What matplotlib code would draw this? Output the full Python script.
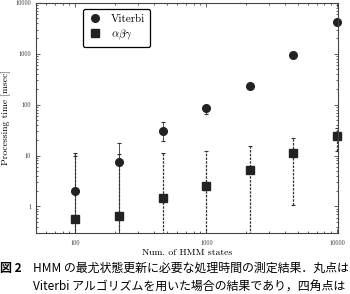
import matplotlib
matplotlib.use('Agg')
import matplotlib.pyplot as plt
from matplotlib.ticker import FuncFormatter, LogLocator
from matplotlib.lines import Line2D
import numpy as np

plt.rcParams['font.family'] = ['cmr10', 'DejaVu Serif']
plt.rcParams['mathtext.fontset'] = 'cm'
plt.rcParams['axes.formatter.use_mathtext'] = True

# number of HMM states
states = [100, 215, 464, 1000, 2154, 4642, 10000]

# Viterbi: mean, lower, upper (msec)
vit_mean = [2.0, 7.3, 31, 85, 235, 960, 4250]
vit_low = [0.2, 0.2, 19, 66, 220, 930, 4100]
vit_high = [10.0, 17.5, 45, 99, 250, 990, 4400]

# alpha-beta-gamma: mean, lower, upper (msec)
abg_mean = [0.56, 0.64, 1.45, 2.5, 5.3, 11.3, 24]
abg_low = [0.1, 0.1, 0.1, 0.1, 0.1, 1.05, 12.5]
abg_high = [11.1, 10.5, 11.0, 12.2, 15.2, 22, 35]

fig = plt.figure(figsize=(3.5, 2.94), dpi=100)
ax = fig.add_axes([0.103, 0.2075, 0.863, 0.7825])

vm = np.array(vit_mean)
am = np.array(abg_mean)
vit_err = [vm - np.array(vit_low), np.array(vit_high) - vm]
abg_err = [am - np.array(abg_low), np.array(abg_high) - am]

col = '#222222'
e2 = ax.errorbar(states, abg_mean, yerr=abg_err, fmt='s', color=col,
                 ms=5.5, elinewidth=0.9, capsize=1.5, capthick=0.8, ecolor='#333333')
e2[2][0].set_linestyle((0, (2, 1)))
e2[0].set_clip_on(False)
e1 = ax.errorbar(states, vit_mean, yerr=vit_err, fmt='o', color=col,
                 ms=5.5, elinewidth=0.6, capsize=1.5, capthick=0.8, ecolor='#333333')
e1[0].set_clip_on(False)

ax.set_xscale('log')
ax.set_yscale('log')
ax.set_xlim(50, 10180)
ax.set_ylim(0.3, 10000)

fmt = FuncFormatter(lambda v, p: '%d' % round(v))
ax.xaxis.set_major_locator(LogLocator(base=10))
ax.yaxis.set_major_locator(LogLocator(base=10))
ax.xaxis.set_major_formatter(fmt)
ax.yaxis.set_major_formatter(fmt)
ax.tick_params(which='both', direction='in', top=True, right=True,
               labelsize=4.5, width=0.6, color='#444444', labelcolor='#333333')
ax.tick_params(which='major', length=3)
ax.tick_params(which='minor', length=1.5)
ax.tick_params(axis='x', pad=5)
for s in ax.spines.values():
    s.set_linewidth(0.8)
    s.set_color('#444444')

ax.set_xlabel('Num. of HMM states', fontsize=7, labelpad=2)
ax.set_ylabel('Processing time [msec]', fontsize=7, labelpad=3)

handles = [Line2D([], [], ls='none', marker='o', ms=5.5, color=col),
           Line2D([], [], ls='none', marker='s', ms=5.5, color=col)]
leg = ax.legend(handles, ['Viterbi', r'$\alpha\beta\gamma$'], loc='upper left',
                bbox_to_anchor=(0.155, 0.975), fontsize=8, frameon=True,
                fancybox=True, edgecolor='black', handletextpad=0.8,
                borderpad=0.5, labelspacing=0.3, handlelength=1.2,
                borderaxespad=0)
leg.get_frame().set_linewidth(0.9)
leg.get_frame().set_alpha(1)

cjk = ['Noto Sans CJK JP', 'DejaVu Sans']
fig.text(0.0, 0.088, '図 2', fontsize=8.6, family=cjk, weight='bold', va='center')
fig.text(0.094, 0.088, 'HMM の最尤状態更新に必要な処理時間の測定結果．丸点は',
         fontsize=8.6, family=cjk, va='center')
fig.text(0.094, 0.022, 'Viterbi アルゴリズムを用いた場合の結果であり，四角点は',
         fontsize=8.6, family=cjk, va='center')

fig.savefig('out.png', dpi=100)
